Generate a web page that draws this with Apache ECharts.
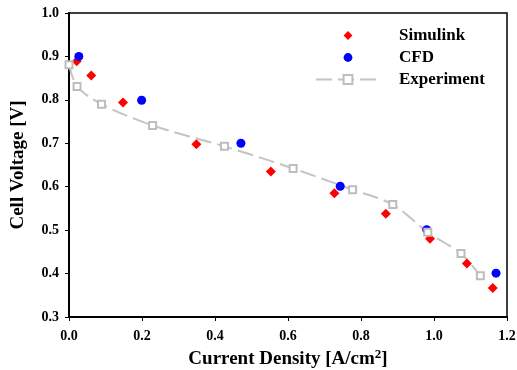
<!DOCTYPE html>
<html>
<head>
<meta charset="utf-8">
<script src="https://cdn.jsdelivr.net/npm/echarts@6/dist/echarts.min.js"></script>
<style>
  html, body { margin: 0; padding: 0; background: #fff; }
  #chart { width: 517px; height: 370px; }
</style>
</head>
<body>
<div id="chart"></div>
<script>
// values
const simulinkX = [0.021, 0.061, 0.148, 0.349, 0.553, 0.727, 0.868, 0.989, 1.090, 1.161];
const simulinkY = [0.889, 0.856, 0.794, 0.698, 0.635, 0.585, 0.538, 0.480, 0.423, 0.367];

const cfdX = [0.027, 0.199, 0.471, 0.743, 0.980, 1.170];
const cfdY = [0.900, 0.799, 0.700, 0.601, 0.501, 0.401];

const expX = [0.0, 0.022, 0.089, 0.229, 0.426, 0.614, 0.777, 0.887, 0.983, 1.074, 1.127];
const expY = [0.881, 0.831, 0.790, 0.741, 0.693, 0.642, 0.593, 0.559, 0.495, 0.446, 0.395];

const xTicks = { min: 0, max: 1.2, step: 0.2 };
const yTicks = { min: 0.3, max: 1.0, step: 0.1 };

const FONT = '"Liberation Serif", "Times New Roman", serif';

const pairs = (xs, ys) => xs.map((x, i) => [x, ys[i]]);

const chart = echarts.init(document.getElementById('chart'));

const hidden = { width: 0, opacity: 0 };

chart.setOption({
  animation: false,
  grid: {
    left: 69, right: 10, top: 13, bottom: 53,
    outerBoundsMode: 'none',
    show: true, borderColor: '#000', borderWidth: 1.5
  },
  legend: {
    orient: 'vertical',
    left: 310,
    top: 22,
    itemWidth: 64,
    itemHeight: 11,
    itemGap: 5,
    textStyle: {
      fontFamily: FONT, fontWeight: 'bold', fontSize: 17, color: '#000',
      lineHeight: 16, padding: [0, 0, 0, 14]
    },
    data: ['Simulink', 'CFD', 'Experiment']
  },
  xAxis: {
    type: 'value',
    min: xTicks.min, max: xTicks.max, interval: xTicks.step,
    name: 'Current Density [A/cm{sup|2}]',
    nameLocation: 'middle',
    nameGap: 30,
    nameTextStyle: {
      fontFamily: FONT, fontWeight: 'bold', fontSize: 19, color: '#000',
      rich: { sup: { fontFamily: FONT, fontWeight: 'bold', fontSize: 13, verticalAlign: 'top', padding: [0, 0, 10, 0] } }
    },
    axisLine: { lineStyle: { color: '#000', width: 2 } },
    axisTick: { show: true, inside: false, length: 4, lineStyle: { color: '#000', width: 1 } },
    axisLabel: {
      margin: 12, fontFamily: FONT, fontWeight: 'bold', fontSize: 14, color: '#000',
      formatter: v => v.toFixed(1)
    },
    splitLine: { show: false }
  },
  yAxis: {
    type: 'value',
    min: yTicks.min, max: yTicks.max, interval: yTicks.step,
    name: 'Cell Voltage [V]',
    nameLocation: 'middle',
    nameGap: 41,
    nameTextStyle: { fontFamily: FONT, fontWeight: 'bold', fontSize: 19, color: '#000' },
    axisLine: { lineStyle: { color: '#000', width: 2 } },
    axisTick: { show: true, inside: false, length: 4, lineStyle: { color: '#000', width: 1 } },
    axisLabel: {
      margin: 10, fontFamily: FONT, fontWeight: 'bold', fontSize: 14, color: '#000',
      formatter: v => v.toFixed(1)
    },
    splitLine: { show: false }
  },
  series: [
    {
      name: 'Simulink',
      type: 'line',
      symbol: 'diamond',
      symbolSize: 10,
      itemStyle: { color: '#ff0000' },
      lineStyle: hidden,
      data: pairs(simulinkX, simulinkY)
    },
    {
      name: 'CFD',
      type: 'line',
      symbol: 'circle',
      symbolSize: 9,
      itemStyle: { color: '#0000ff' },
      lineStyle: hidden,
      data: pairs(cfdX, cfdY)
    },
    {
      name: 'Experiment',
      type: 'line',
      smooth: 0.3,
      symbol: 'emptyRect',
      symbolSize: 7,
      itemStyle: { color: '#bdbdbd', borderWidth: 1.5 },
      lineStyle: { color: '#c4c4c4', width: 2, type: [16, 6] },
      data: pairs(expX, expY)
    }
  ]
});
</script>
</body>
</html>
